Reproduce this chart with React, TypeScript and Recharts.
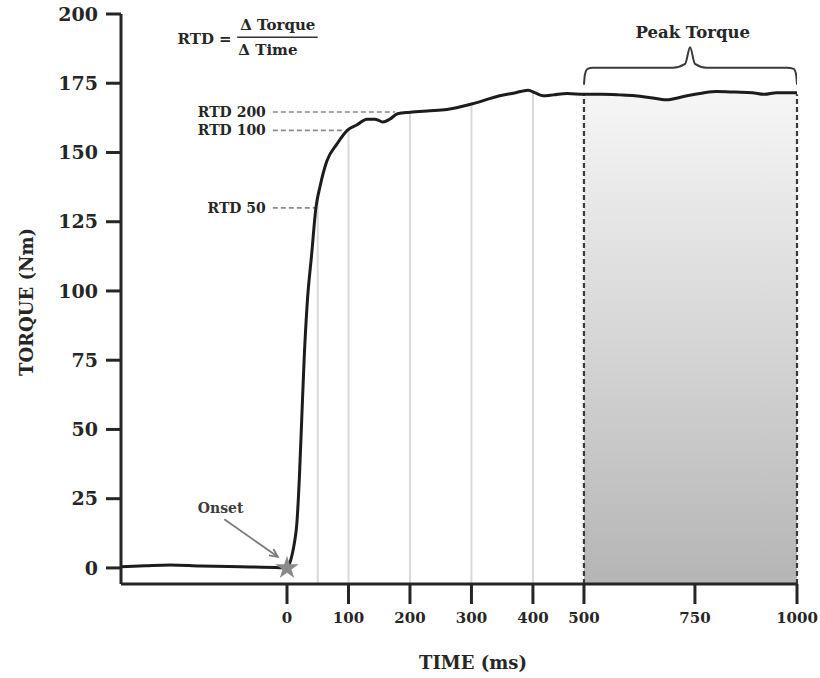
import {
  ComposedChart,
  Line,
  Area,
  Scatter,
  ZAxis,
  XAxis,
  YAxis,
  ReferenceLine,
  ReferenceDot,
} from "recharts";

// torque trace (time in ms, torque in Nm)
const TIME_MS = [
  -270, -230, -190, -141, -76, -11, 0, 4, 8, 12, 16, 20, 24, 28, 33, 40, 47, 54, 65, 81, 98, 114, 130, 143,
  150, 156, 167, 180, 200, 228, 260, 302, 346, 370, 392, 405, 420, 440, 467, 500, 540, 580, 615, 650, 685, 705,
  732, 770, 803, 850, 890, 920, 950, 1000,
];
const TORQUE_NM = [
  0.4, 0.8, 1.1, 0.7, 0.4, 0.1, 0, 1.5, 4.5, 9, 16, 32, 54, 76, 96, 113, 130, 138, 147, 153, 158, 160, 162,
  162, 161.5, 161, 162, 164, 164.5, 165, 165.5, 167.6, 170.5, 171.5, 172.5, 171.5, 170.5, 170.8, 171.3, 171, 171,
  170.8, 170.5, 169.8, 169, 169.5, 170.5, 171.5, 172, 171.8, 171.6, 171, 171.6, 171.6,
];

const X_TICKS = [0, 100, 200, 300, 400, 500, 750, 1000];
const Y_TICKS = [0, 25, 50, 75, 100, 125, 150, 175, 200];

// the time axis is stretched unevenly in the original
const SCALE_MS = [0, 400, 500, 750, 1000];
const SCALE_POS = [0, 400, 483, 663.5, 829.5];

const RTD_NAMES = ["RTD 50", "RTD 100", "RTD 200"];
const RTD_END_MS = [47, 94, 176];
const RTD_VALUES = [130, 158, 164.6];

const GRID_MS = [50, 100, 200, 300, 400];
const GRID_TOP = [134, 158, 164.5, 167.5, 172];

const PEAK_FROM = 500;
const PEAK_TO = 1000;
const PEAK_TOP = 171;

const BRACE_MS = [500, 502, 508, 520, 700, 728, 739, 750, 778, 975, 992, 998, 1000];
const BRACE_NM = [174.5, 178, 180.2, 180.6, 180.6, 182, 188, 182, 180.6, 180.6, 180.2, 178, 174.5];

const Y_MIN = -5.8;
const FONT = "'DejaVu Serif', serif";
const INK = "#262626";

const pos = (t: number) => {
  if (t <= 0) return t;
  for (let i = 1; i < SCALE_MS.length; i++) {
    if (t <= SCALE_MS[i]) {
      const f = (t - SCALE_MS[i - 1]) / (SCALE_MS[i] - SCALE_MS[i - 1]);
      return SCALE_POS[i - 1] + f * (SCALE_POS[i] - SCALE_POS[i - 1]);
    }
  }
  return SCALE_POS[SCALE_POS.length - 1];
};

const curve = TIME_MS.map((t, i) => ({ x: pos(t), y: TORQUE_NM[i] }));
const peak = TIME_MS.map((t, i) => ({ t, x: pos(t), y: TORQUE_NM[i] })).filter((d) => d.t >= PEAK_FROM);
const brace = BRACE_MS.map((t, i) => ({ x: pos(t), y: BRACE_NM[i] }));
const tickPos = X_TICKS.map(pos);

const Arrow = (props: any) => {
  const { x1, y1, x2, y2 } = props;
  const a = Math.atan2(y2 - y1, x2 - x1);
  const h = 9;
  const p1 = [x2 - h * Math.cos(a - 0.45), y2 - h * Math.sin(a - 0.45)];
  const p2 = [x2 - h * Math.cos(a + 0.45), y2 - h * Math.sin(a + 0.45)];
  return (
    <g stroke="#7a7a7a" strokeWidth={1.8} fill="none">
      <line x1={x1} y1={y1} x2={x2} y2={y2} />
      <polyline points={`${p1[0]},${p1[1]} ${x2},${y2} ${p2[0]},${p2[1]}`} />
    </g>
  );
};

const textStyle = { fontFamily: FONT, fontWeight: 700, fill: INK };

const App = () => {
  return (
    <div style={{ position: "absolute", left: 0, top: 0, background: "#fff" }}>
      <ComposedChart width={820} height={678} margin={{ top: 14, right: 23, bottom: 0, left: 21 }}>
        <defs>
          <linearGradient id="peakFill" x1="0" y1="0" x2="0" y2="1">
            <stop offset="0%" stopColor="#f6f6f6" />
            <stop offset="55%" stopColor="#d3d3d3" />
            <stop offset="100%" stopColor="#b5b5b5" />
          </linearGradient>
        </defs>
        <XAxis
          type="number"
          dataKey="x"
          domain={[pos(-270), pos(1000)]}
          ticks={tickPos}
          tickFormatter={(v: number) => String(X_TICKS[tickPos.indexOf(v)] ?? "")}
          height={94}
          tickSize={20}
          tickMargin={8}
          tick={{ ...textStyle, fontSize: 15 }}
          axisLine={{ stroke: INK, strokeWidth: 3 }}
          tickLine={{ stroke: INK, strokeWidth: 3 }}
          allowDataOverflow
          label={{
            content: ({ viewBox }: any) => (
              <text
                x={viewBox.x + viewBox.width / 2 + 14}
                y={viewBox.y + 85}
                textAnchor="middle"
                fontSize={18}
                {...textStyle}
              >
                TIME (ms)
              </text>
            ),
          }}
        />
        <YAxis
          type="number"
          domain={[Y_MIN, 200]}
          ticks={Y_TICKS}
          width={100}
          tickSize={15}
          tickMargin={8}
          tick={{ ...textStyle, fontSize: 19 }}
          axisLine={{ stroke: INK, strokeWidth: 3 }}
          tickLine={{ stroke: INK, strokeWidth: 3 }}
          allowDataOverflow
          label={{
            content: ({ viewBox }: any) => {
              const cx = viewBox.x + 5;
              const cy = viewBox.y + viewBox.height / 2 + 3;
              return (
                <text
                  x={cx}
                  y={cy}
                  transform={`rotate(-90 ${cx} ${cy})`}
                  textAnchor="middle"
                  dominantBaseline="central"
                  fontSize={18}
                  {...textStyle}
                >
                  TORQUE (Nm)
                </text>
              );
            },
          }}
        />
        <ZAxis type="number" range={[170, 170]} />

        <Area
          data={peak}
          dataKey="y"
          type="monotone"
          baseValue={Y_MIN}
          stroke="none"
          fill="url(#peakFill)"
          fillOpacity={1}
          isAnimationActive={false}
        />

        {GRID_MS.map((t, i) => (
          <ReferenceLine
            key={t}
            segment={[
              { x: pos(t), y: Y_MIN },
              { x: pos(t), y: GRID_TOP[i] },
            ]}
            stroke="#d9d9d9"
            strokeWidth={2}
          />
        ))}

        {[PEAK_FROM, PEAK_TO].map((t) => (
          <ReferenceLine
            key={t}
            segment={[
              { x: pos(t), y: Y_MIN },
              { x: pos(t), y: PEAK_TOP },
            ]}
            stroke="#3a3a3a"
            strokeWidth={2.2}
            strokeDasharray="5 3"
          />
        ))}

        {RTD_NAMES.map((name, i) => (
          <ReferenceLine
            key={name}
            segment={[
              { x: pos(-23), y: RTD_VALUES[i] },
              { x: pos(RTD_END_MS[i]), y: RTD_VALUES[i] },
            ]}
            stroke="#8c8c8c"
            strokeWidth={1.6}
            strokeDasharray="5 3"
            label={{ value: name, position: "left", offset: 7, fontSize: 14, ...textStyle }}
          />
        ))}

        <ReferenceLine
          segment={[
            { x: pos(-102), y: 17.6 },
            { x: pos(-15), y: 4 },
          ]}
          shape={Arrow}
        />

        <ReferenceLine
          segment={[
            { x: pos(-81), y: 191.6 },
            { x: pos(50), y: 191.6 },
          ]}
          stroke="#333"
          strokeWidth={1.6}
        />
        <ReferenceDot x={pos(-134)} y={191} r={0} stroke="none" label={{ value: "RTD =", position: "center", fontSize: 15, ...textStyle }} />
        <ReferenceDot x={pos(-15)} y={196} r={0} stroke="none" label={{ value: "Δ Torque", position: "center", fontSize: 15, ...textStyle }} />
        <ReferenceDot x={pos(-31)} y={187} r={0} stroke="none" label={{ value: "Δ Time", position: "center", fontSize: 15, ...textStyle }} />
        <ReferenceDot x={pos(-108)} y={21.6} r={0} stroke="none" label={{ value: "Onset", position: "center", fontSize: 14, ...textStyle, fill: "#3c3c3c" }} />
        <ReferenceDot x={pos(745)} y={193.5} r={0} stroke="none" label={{ value: "Peak Torque", position: "center", fontSize: 16.5, ...textStyle }} />

        <Line
          data={brace}
          dataKey="y"
          type="monotone"
          stroke="#3a3a3a"
          strokeWidth={2}
          dot={false}
          isAnimationActive={false}
        />
        <Line
          data={curve}
          dataKey="y"
          type="monotone"
          stroke="#1c1c1c"
          strokeWidth={3}
          dot={false}
          isAnimationActive={false}
        />
        <Scatter data={[{ x: pos(0), y: 0 }]} dataKey="y" shape="star" fill="#8a8a8a" isAnimationActive={false} />
      </ComposedChart>
    </div>
  );
};

export default App;
